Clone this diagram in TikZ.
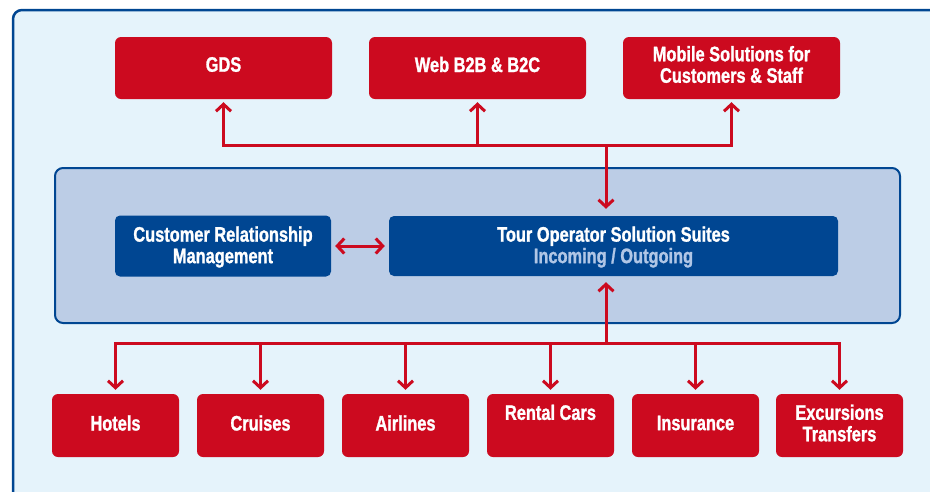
\documentclass[tikz,border=0pt]{standalone}
\usepackage{fontspec}
\setmainfont{Liberation Sans}[FakeStretch=0.78, BoldFeatures={FakeBold=1.2}]
\usetikzlibrary{arrows.meta}
\definecolor{boxred}{RGB}{204,10,31}
\definecolor{darkblue}{RGB}{0,70,146}
\definecolor{panelblue}{RGB}{188,205,230}
\definecolor{bgblue}{RGB}{229,243,251}
\definecolor{lightblue}{RGB}{176,198,230}
\tikzset{
  lbl/.style={text=white, align=center, inner sep=0pt,
    font=\fontsize{21}{21.5}\selectfont\bfseries},
  redbox/.style={fill=boxred, rounded corners=6pt, inner sep=0pt},
  bluebox/.style={fill=darkblue, rounded corners=5pt, inner sep=0pt},
  toptxt/.style={label={[lbl, yshift=3.5pt]center:{#1}}},
  midtxt/.style={label={[lbl, yshift=-1pt]center:{#1}}},
  bottxt/.style={label={[lbl, yshift=2.5pt]center:{#1}}},
  conn/.style={draw=boxred, line width=3pt, line join=miter},
  arr/.style={conn, -{Straight Barb[length=7pt,width=15pt]}},
  darr/.style={conn, {Straight Barb[length=7pt,width=15pt]}-{Straight Barb[length=7pt,width=15pt]}},
}
\begin{document}
\begin{tikzpicture}[x=1pt,y=-1pt]
\useasboundingbox (0,0) rectangle (930,491);
\clip (0,0) rectangle (930,491);
% outer frame
\draw[fill=bgblue, draw=darkblue, line width=2.5pt, rounded corners=9pt] (13,10) rectangle (950,510);
% middle panel
\draw[fill=panelblue, draw=darkblue, line width=2pt, rounded corners=8pt] (55,168) rectangle (900,323);
% top boxes
\node[redbox, minimum width=217pt, minimum height=62pt, toptxt={GDS}] (gds) at (223.5,68) {};
\node[redbox, minimum width=217pt, minimum height=62pt, toptxt={Web B2B \& B2C}] (web) at (477.5,68) {};
\node[redbox, minimum width=217pt, minimum height=62pt, toptxt={Mobile Solutions for\\Customers \& Staff}] (mob) at (731.5,68) {};
% middle boxes
\node[bluebox, minimum width=216pt, minimum height=61pt, midtxt={Customer Relationship\\Management}] (crm) at (223,246) {};
\node[bluebox, minimum width=449pt, minimum height=60pt, midtxt={Tour Operator Solution Suites\\\textcolor{lightblue}{Incoming / Outgoing}}] (toss) at (613.5,246) {};
% bottom boxes
\node[redbox, minimum width=127pt, minimum height=63pt, bottxt={Hotels}] (hot) at (115.5,425.5) {};
\node[redbox, minimum width=127pt, minimum height=63pt, bottxt={Cruises}] (cru) at (260.5,425.5) {};
\node[redbox, minimum width=127pt, minimum height=63pt, bottxt={Airlines}] (air) at (405.5,425.5) {};
\node[redbox, minimum width=127pt, minimum height=63pt, bottxt={Rental Cars\\\mbox{}}] (ren) at (550.5,425.5) {};
\node[redbox, minimum width=127pt, minimum height=63pt, bottxt={Insurance}] (ins) at (695.5,425.5) {};
\node[redbox, minimum width=127pt, minimum height=63pt, bottxt={Excursions\\Transfers}] (exc) at (839.5,425.5) {};
% bus coordinates
\coordinate (tb) at (606,145);
\coordinate (bb) at (606,343);
% top connectors
\draw[conn] (gds.south |- tb) -- (mob.south |- tb);
\draw[arr, shorten >=3pt] (web.south |- tb) -- (gds.south |- tb) -- (gds.south);
\draw[arr, shorten >=3pt] (web.south |- tb) -- (web.south);
\draw[arr, shorten >=3pt] (tb) -- (mob.south |- tb) -- (mob.south);
\draw[arr, shorten >=7pt] (tb) -- (toss.north -| tb);
% crm <-> toss
\draw[darr, shorten <=4pt, shorten >=4pt] (crm.east) -- (toss.west |- crm.east);
% bottom connectors
\draw[conn] (hot.north |- bb) -- (exc.north |- bb);
\draw[arr, shorten >=6pt] (bb) -- (toss.south -| bb);
\draw[arr, shorten >=4pt] (cru.north |- bb) -- (hot.north |- bb) -- (hot.north);
\draw[arr, shorten >=4pt] (cru.north |- bb) -- (cru.north);
\draw[arr, shorten >=4pt] (air.north |- bb) -- (air.north);
\draw[arr, shorten >=4pt] (ren.north |- bb) -- (ren.north);
\draw[arr, shorten >=4pt] (ins.north |- bb) -- (ins.north);
\draw[arr, shorten >=4pt] (ins.north |- bb) -- (exc.north |- bb) -- (exc.north);
\end{tikzpicture}
\end{document}
